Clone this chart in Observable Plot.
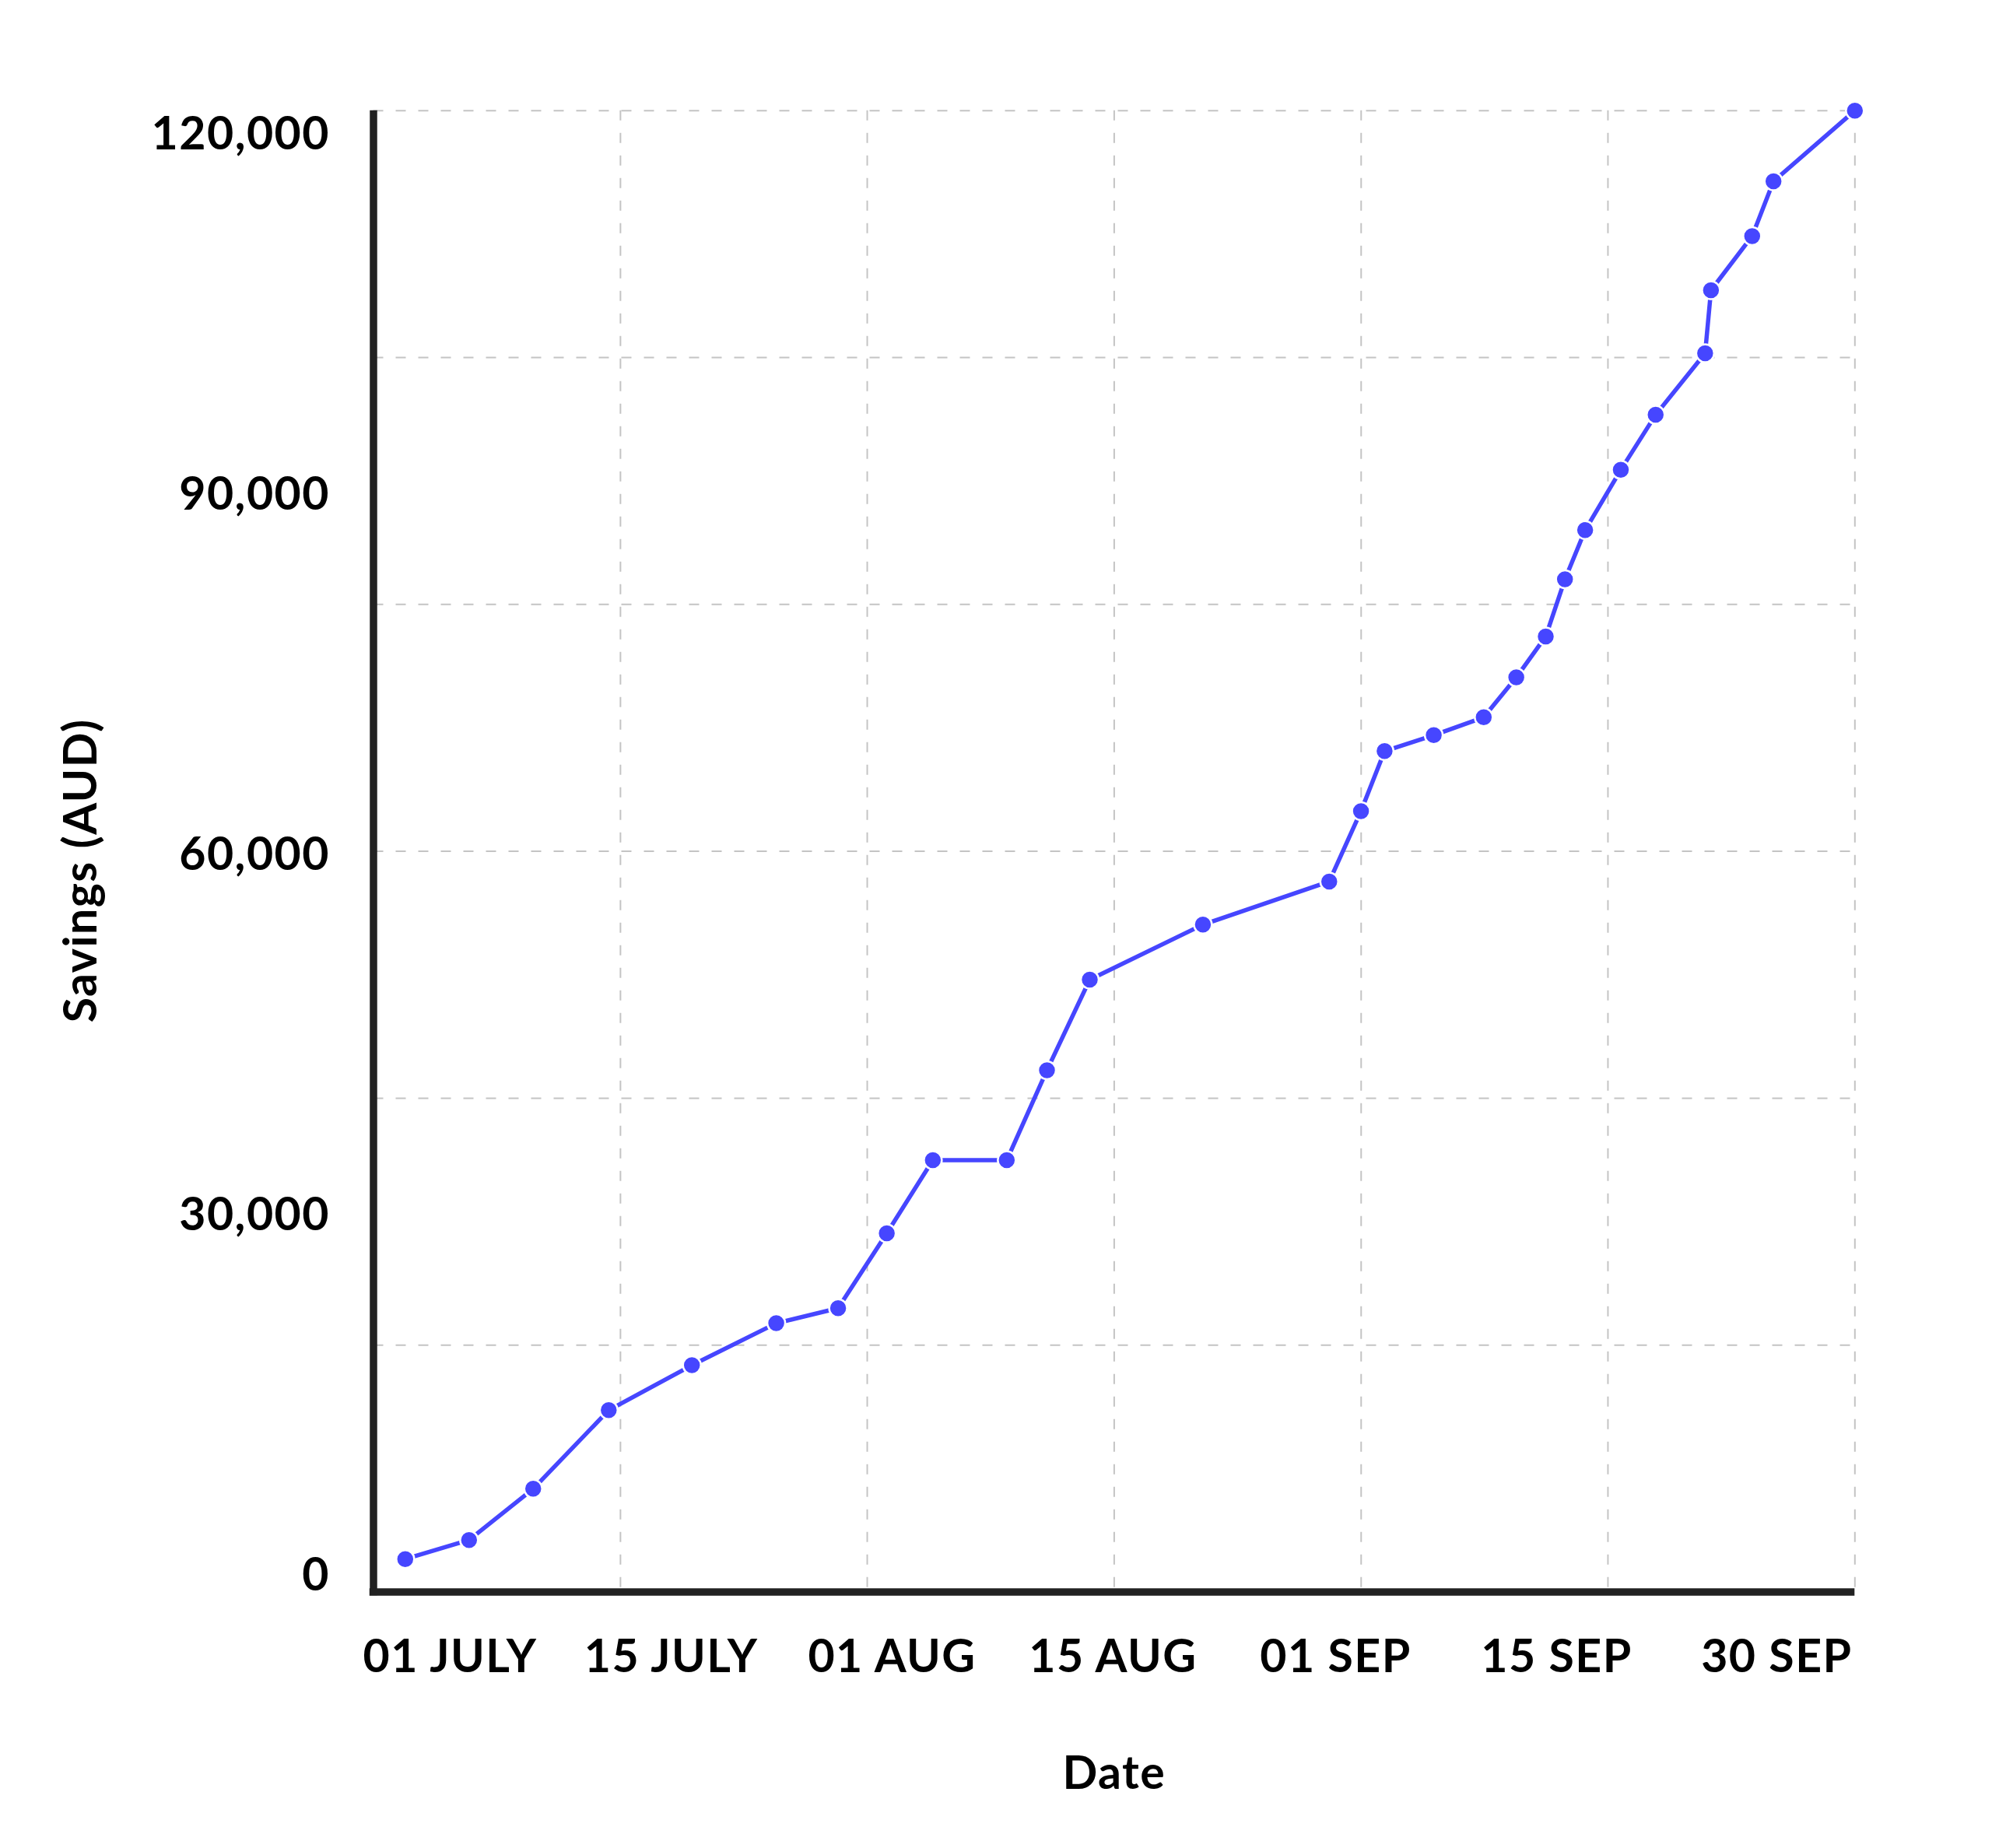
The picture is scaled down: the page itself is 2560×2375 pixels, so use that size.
<!DOCTYPE html>
<html>
<head>
<meta charset="utf-8">
<script src="https://cdn.jsdelivr.net/npm/d3@7"></script>
<script src="https://cdn.jsdelivr.net/npm/@observablehq/plot@0.6"></script>
<style>
html, body { margin: 0; padding: 0; background: #fff; }
#chart svg text { letter-spacing: 0.025em; }
</style>
</head>
<body>
<div id="chart"></div>
<script>
// Days since 01 July (0 = 01 JULY, 91 = 30 SEP)
const days = [1.95, 5.87, 9.81, 14.45, 19.56, 24.74, 28.54, 31.53, 34.36, 38.9, 41.37, 44.0, 50.95, 58.71, 60.66, 62.11, 65.13, 68.2, 70.2, 72.01, 73.19, 74.43, 76.62, 78.76, 81.8, 82.16, 84.69, 86.0, 91];
// Savings (AUD)
const savings = [2670, 4210, 8360, 14730, 18370, 21770, 22990, 29060, 34980, 34980, 42270, 49610, 54060, 57550, 63260, 68120, 69410, 70860, 74090, 77410, 82040, 86020, 90900, 95360, 100350, 105450, 109840, 114280, 120000];

const xTickPos = [4.71, 18.29, 31.86, 45.43, 59.10, 72.68, 86.20];
const xTickLabels = ["01 JULY", "15 JULY", "01 AUG", "15 AUG", "01 SEP", "15 SEP", "30 SEP"];
const yTickPos = [1290, 30480, 59670, 88860, 118050];
const yTickLabels = ["0", "30,000", "60,000", "90,000", "120,000"];
const xGrid = [15.17, 30.33, 45.5, 60.67, 75.83, 91];
const yGrid = [20000, 40000, 60000, 80000, 100000, 120000];

const data = days.map((d, i) => ({day: d, savings: savings[i]}));

const blue = "#4646FF";
const grid = {stroke: "#c4c4c4", strokeWidth: 2, strokeDasharray: "13,16"};
const font = {fontFamily: "Lato", fontWeight: 700};

const chart = Plot.plot({
  width: 2560,
  height: 2375,
  marginLeft: 479.5,
  marginRight: 176.7,
  marginTop: 141.7,
  marginBottom: 329.5,
  style: {fontFamily: "Lato", fontSize: "59px", fontWeight: 700, color: "#000", background: "#fff", overflow: "visible"},
  x: {domain: [0, 91]},
  y: {domain: [0, 120000]},
  marks: [
    Plot.ruleY(yGrid, grid),
    Plot.ruleX(xGrid, grid),
    Plot.axisY({
      ticks: yTickPos,
      tickFormat: d => yTickLabels[yTickPos.indexOf(d)],
      tickSize: 0,
      tickPadding: 56,
      fontSize: 59,
      label: null,
      ...font
    }),
    Plot.axisX({
      ticks: xTickPos,
      tickFormat: d => xTickLabels[xTickPos.indexOf(d)],
      tickSize: 0,
      tickPadding: 61,
      fontSize: 59,
      label: null,
      ...font
    }),
    Plot.ruleX([0], {stroke: "#222222", strokeWidth: 9.5, insetBottom: -4.75}),
    Plot.ruleY([0], {stroke: "#222222", strokeWidth: 9.5, insetLeft: -4.75}),
    Plot.line(data, {x: "day", y: "savings", stroke: blue, strokeWidth: 5.5, strokeLinejoin: "round"}),
    Plot.dot(data, {x: "day", y: "savings", r: 11.5, fill: blue, stroke: "#fff", strokeWidth: 2.5}),
    Plot.text(["Date"], {frameAnchor: "bottom", dy: 252.8, lineAnchor: "bottom", fontSize: 59, fill: "#000", ...font}),
    Plot.text(["Savings (AUD)"], {frameAnchor: "left", textAnchor: "middle", dx: -356.2, dy: 24.7, rotate: -90, lineAnchor: "bottom", fontSize: 59, fill: "#000", ...font})
  ]
});

document.getElementById("chart").appendChild(chart);
</script>
</body>
</html>
